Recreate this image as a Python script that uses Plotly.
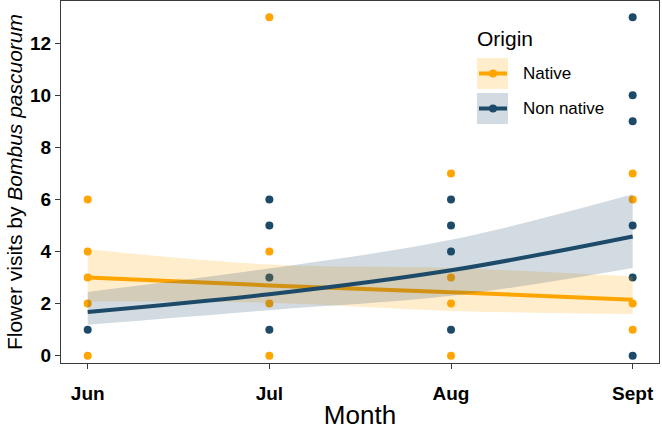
import plotly.graph_objects as go

months = ["Jun", "Jul", "Aug", "Sept"]

# Observed flower visits (points)
native_x = ["Jun"] * 5 + ["Jul"] * 4 + ["Aug"] * 4 + ["Sept"] * 4
native_y = [0, 2, 3, 4, 6,
            0, 2, 4, 13,
            0, 2, 3, 7,
            1, 2, 6, 7]
nonnative_x = ["Jun"] * 1 + ["Jul"] * 4 + ["Aug"] * 4 + ["Sept"] * 6
nonnative_y = [1,
               1, 3, 5, 6,
               1, 4, 5, 6,
               0, 3, 5, 9, 10, 13]

# Fitted values and confidence bands
native_fit = [3.0, 2.7, 2.44, 2.15]
native_lo = [2.08, 2.03, 1.72, 1.6]
native_hi = [4.09, 3.5, 3.37, 3.04]
nonnative_fit = [1.68, 2.36, 3.28, 4.58]
nonnative_lo = [1.19, 1.75, 2.3, 3.37]
nonnative_hi = [2.45, 3.35, 4.45, 6.2]

ORANGE = "#FFA500"
NAVY = "#1D4A68"
ORANGE_FILL = "rgba(255,165,0,0.2)"
NAVY_FILL = "rgba(29,74,104,0.2)"
FONT = "Liberation Sans, Arial, sans-serif"

fig = go.Figure()

fig.add_trace(go.Scatter(x=native_x, y=native_y, mode="markers",
                         marker=dict(color=ORANGE, size=8), showlegend=False))
fig.add_trace(go.Scatter(x=nonnative_x, y=nonnative_y, mode="markers",
                         marker=dict(color=NAVY, size=8), showlegend=False))

def smooth(fit, lo, hi, col, fill):
    fig.add_trace(go.Scatter(x=months, y=lo, mode="lines", line_shape="spline",
                             line=dict(width=0, color=fill),
                             showlegend=False, hoverinfo="skip"))
    fig.add_trace(go.Scatter(x=months, y=hi, mode="lines", line_shape="spline",
                             line=dict(width=0, color=fill),
                             fill="tonexty", fillcolor=fill, showlegend=False, hoverinfo="skip"))
    fig.add_trace(go.Scatter(x=months, y=fit, mode="lines", line_shape="spline",
                             line=dict(color=col, width=4), showlegend=False))

smooth(native_fit, native_lo, native_hi, ORANGE, ORANGE_FILL)
smooth(nonnative_fit, nonnative_lo, nonnative_hi, NAVY, NAVY_FILL)

# plot area in pixels
L, R, T, B = 61, 659, 1, 363
W, H = 662, 430

def px(x):
    return (x - L) / (R - L)

def py(y):
    return (B - y) / (B - T)

shapes = []
annotations = []
# manual legend
legend_items = [("Native", ORANGE, ORANGE_FILL, 58, 89), ("Non native", NAVY, NAVY_FILL, 93, 124)]
for label, col, fillc, y0, y1 in legend_items:
    shapes.append(dict(type="rect", xref="paper", yref="paper", x0=px(477), x1=px(508),
                       y0=py(y1), y1=py(y0), fillcolor=fillc, line=dict(width=0)))
    yc = (y0 + y1) / 2
    shapes.append(dict(type="line", xref="paper", yref="paper", x0=px(479), x1=px(507),
                       y0=py(yc), y1=py(yc), line=dict(color=col, width=4)))
    shapes.append(dict(type="circle", xref="paper", yref="paper", x0=px(489), x1=px(497),
                       y0=py(yc + 4), y1=py(yc - 4), fillcolor=col, line=dict(width=0)))
    annotations.append(dict(text=label, xref="paper", yref="paper", x=px(521), y=py(yc),
                            xanchor="left", yanchor="middle", showarrow=False,
                            font=dict(size=17, color="black", family=FONT)))
annotations.append(dict(text="Origin", xref="paper", yref="paper", x=px(475), y=py(38),
                        xanchor="left", yanchor="middle", showarrow=False,
                        font=dict(size=21, color="black", family=FONT)))

fig.update_layout(
    width=W, height=H,
    margin=dict(l=L, r=W - R, t=T, b=H - B),
    paper_bgcolor="white", plot_bgcolor="white",
    font=dict(family=FONT, color="black"),
    showlegend=False,
    shapes=shapes, annotations=annotations,
    xaxis=dict(type="category", categoryorder="array", categoryarray=months,
               range=[-0.147, 3.145], showgrid=False, zeroline=False,
               showline=True, mirror=True, linecolor="#3a3a3a", linewidth=1.3,
               ticks="outside", ticklen=5, tickcolor="#3a3a3a", tickwidth=1.3,
               tickfont=dict(size=19, family=FONT, color="black", weight="bold"),
               ticklabelstandoff=8,
               title=dict(text="Month", font=dict(size=26, family=FONT), standoff=6)),
    yaxis=dict(range=[-0.28, 13.62], tickvals=[0, 2, 4, 6, 8, 10, 12],
               showgrid=False, zeroline=False,
               showline=True, mirror=True, linecolor="#3a3a3a", linewidth=1.3,
               ticks="outside", ticklen=5, tickcolor="#3a3a3a", tickwidth=1.3,
               tickfont=dict(size=19, family=FONT, color="black", weight="bold"),
               title=dict(text="Flower visits by <i>Bombus pascuorum</i>",
                          font=dict(size=21, family=FONT), standoff=1)),
)

fig.write_html("out.html")
